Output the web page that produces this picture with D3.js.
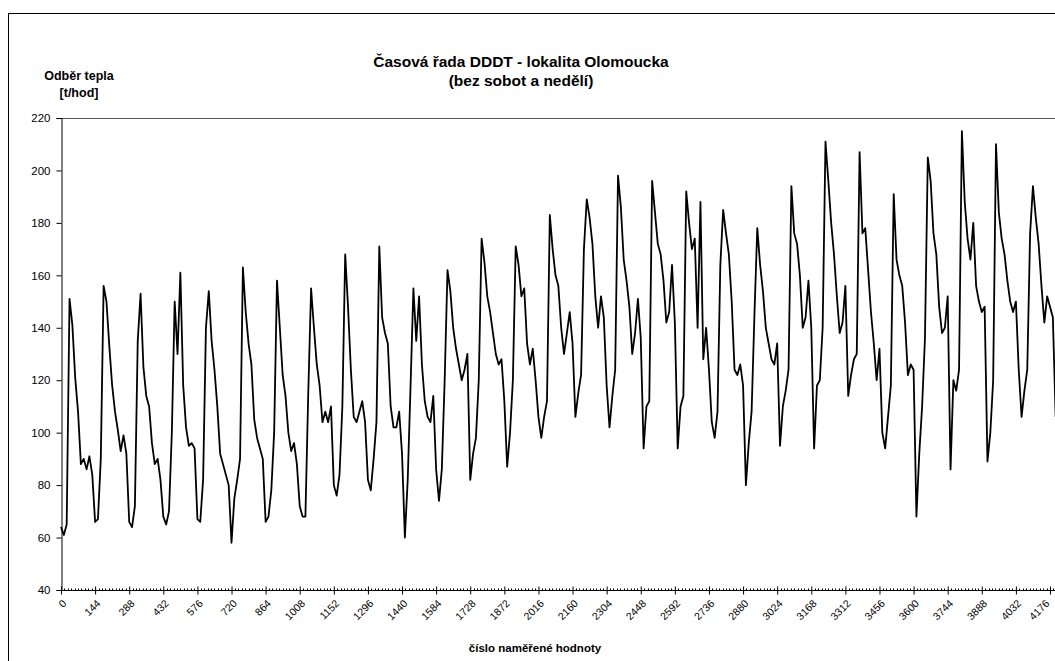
<!DOCTYPE html>
<html>
<head>
<meta charset="utf-8">
<script src="https://cdn.jsdelivr.net/npm/d3@7"></script>
<style>
  html, body { margin: 0; padding: 0; background: #fff; overflow: hidden; }
  svg { display: block; font-family: "Liberation Sans", Arial, sans-serif; }
</style>
</head>
<body>
<svg id="chart" width="1055" height="661"></svg>
<script>
// Chart texts
const titleLines = ["Časová řada DDDT - lokalita Olomoucka", "(bez sobot a nedělí)"];
const yTitleLines = ["Odběr tepla", "[t/hod]"];
const xTitle = "číslo naměřené hodnoty";

// Axis ticks
const xTickValues = [0, 144, 288, 432, 576, 720, 864, 1008, 1152, 1296, 1440, 1584, 1728, 1872,
  2016, 2160, 2304, 2448, 2592, 2736, 2880, 3024, 3168, 3312, 3456, 3600, 3744, 3888, 4032, 4176];
const yTickValues = [40, 60, 80, 100, 120, 140, 160, 180, 200, 220];

// Heat consumption [t/hod], one value every 12 measurements
const sampleStep = 12;
const heatValues = [
  64, 61, 65, 151, 141, 121, 108, 88, 90, 86,
  91, 84, 66, 67, 90, 156, 150, 133, 118, 108,
  101, 93, 99, 92, 66, 64, 72, 135, 153, 125,
  114, 110, 96, 88, 90, 82, 68, 65, 70, 100,
  150, 130, 161, 118, 102, 95, 96, 94, 67, 66,
  82, 140, 154, 135, 124, 110, 92, 88, 84, 80,
  58, 75, 82, 90, 163, 146, 134, 126, 105, 98,
  94, 90, 66, 68, 78, 100, 158, 140, 122, 114,
  100, 93, 96, 88, 72, 68, 68, 115, 155, 140,
  126, 118, 104, 108, 104, 110, 80, 76, 84, 110,
  168, 148, 124, 106, 104, 108, 112, 104, 82, 78,
  90, 104, 171, 144, 138, 134, 110, 102, 102, 108,
  92, 60, 82, 118, 155, 135, 152, 126, 112, 106,
  104, 114, 86, 74, 86, 120, 162, 154, 140, 132,
  126, 120, 124, 130, 82, 92, 98, 120, 174, 165,
  152, 146, 138, 130, 126, 128, 112, 87, 100, 120,
  171, 164, 152, 155, 134, 126, 132, 120, 106, 98,
  106, 112, 183, 170, 160, 156, 140, 130, 138, 146,
  134, 106, 115, 122, 170, 189, 182, 172, 152, 140,
  152, 144, 118, 102, 114, 124, 198, 186, 166, 158,
  148, 130, 138, 151, 136, 94, 110, 112, 196, 184,
  172, 168, 158, 142, 146, 164, 142, 94, 110, 114,
  192, 180, 170, 174, 140, 188, 128, 140, 124, 104,
  98, 108, 164, 185, 176, 168, 150, 124, 122, 126,
  118, 80, 96, 108, 145, 178, 164, 154, 140, 134,
  128, 126, 134, 95, 110, 116, 124, 194, 176, 172,
  160, 140, 144, 158, 140, 94, 118, 120, 140, 211,
  196, 180, 168, 152, 138, 142, 156, 114, 122, 128,
  130, 207, 176, 178, 162, 146, 134, 120, 132, 100,
  94, 106, 118, 191, 166, 160, 156, 142, 122, 126,
  124, 68, 92, 110, 136, 205, 196, 176, 168, 148,
  138, 140, 152, 86, 120, 116, 124, 215, 188, 174,
  166, 180, 156, 150, 146, 148, 89, 100, 120, 210,
  184, 174, 168, 158, 150, 146, 150, 124, 106, 116,
  124, 176, 194, 182, 172, 156, 142, 152, 148, 144, 106
];

const svg = d3.select("#chart");
const W = 1055, H = 661;
const plot = { left: 61, top: 118, bottom: 590, right: 1050 };

const x = d3.scaleLinear().domain([0, 4176]).range([plot.left, plot.right]);
const y = d3.scaleLinear().domain([40, 220]).range([plot.bottom, plot.top]);

// Outer chart frame
svg.append("rect")
  .attr("x", 8.5).attr("y", 13.5)
  .attr("width", W + 20).attr("height", H + 20)
  .attr("fill", "none").attr("stroke", "#000").attr("stroke-width", 1);

// Plot area top border
svg.append("line")
  .attr("x1", plot.left).attr("x2", W + 5)
  .attr("y1", plot.top + 0.5).attr("y2", plot.top + 0.5)
  .attr("stroke", "#555").attr("stroke-width", 1);

// Y axis
const yAxis = d3.axisLeft(y).tickValues(yTickValues).tickSize(5).tickPadding(6);
const gy = svg.append("g")
  .attr("transform", `translate(${plot.left + 0.5},0)`)
  .call(yAxis);
gy.select(".domain").attr("stroke", "#000");
gy.selectAll(".tick line").attr("stroke", "#000");
gy.selectAll(".tick text")
  .attr("font-size", 11.5).attr("fill", "#000")
  .attr("font-family", "'Liberation Sans', Arial, sans-serif");

// X axis: major ticks crossing the axis line
const xAxis = d3.axisBottom(x).tickValues(xTickValues).tickSizeInner(4).tickSizeOuter(0).tickFormat(d3.format("d"));
const gx = svg.append("g")
  .attr("transform", `translate(0,${plot.bottom + 0.5})`)
  .call(xAxis);
gx.select(".domain").attr("d", `M${plot.left},0H${W + 5}`).attr("stroke", "#000");
gx.selectAll(".tick line").attr("y1", -4).attr("y2", 4).attr("stroke", "#000");
const lastTick = xTickValues[xTickValues.length - 1];
gx.selectAll(".tick text")
  .attr("font-size", 10.5).attr("fill", "#000")
  .attr("font-family", "'Liberation Sans', Arial, sans-serif")
  .attr("text-anchor", "end")
  .attr("dy", "0.35em")
  // the last label is nudged left so it stays inside the chart edge
  .attr("transform", d => d === lastTick ? "translate(-3,11) rotate(-45)" : "translate(3,11) rotate(-45)")
  .attr("y", 0).attr("x", 0);

// Minor ticks, ten per major interval
const minorTicks = d3.range(0, 4200, 14.4).filter(v => v % 144 > 0.5 && v % 144 < 143.5);
gx.selectAll(".minor").data(minorTicks).join("line")
  .attr("class", "minor")
  .attr("x1", d => Math.round(x(d)) + 0.5).attr("x2", d => Math.round(x(d)) + 0.5)
  .attr("y1", -2).attr("y2", 0)
  .attr("stroke", "#000").attr("stroke-width", 1);

// Series line
const line = d3.line()
  .x((d, i) => x(i * sampleStep))
  .y(d => y(d));
svg.append("path")
  .datum(heatValues)
  .attr("d", line)
  .attr("fill", "none")
  .attr("stroke", "#000")
  .attr("stroke-width", 1.8)
  .attr("stroke-linejoin", "round");

// Titles
const title = svg.append("text")
  .attr("text-anchor", "middle")
  .attr("font-weight", "bold").attr("font-size", 15.5);
title.selectAll("tspan").data(titleLines).join("tspan")
  .attr("x", 521).attr("y", (d, i) => 67 + i * 18.5)
  .text(d => d);

const yTitle = svg.append("text")
  .attr("text-anchor", "middle")
  .attr("font-weight", "bold").attr("font-size", 12.5);
yTitle.selectAll("tspan").data(yTitleLines).join("tspan")
  .attr("x", 79).attr("y", (d, i) => 80 + i * 17)
  .text(d => d);

svg.append("text")
  .attr("x", 535).attr("y", 652)
  .attr("text-anchor", "middle")
  .attr("font-weight", "bold").attr("font-size", 11.5)
  .text(xTitle);
</script>
</body>
</html>
